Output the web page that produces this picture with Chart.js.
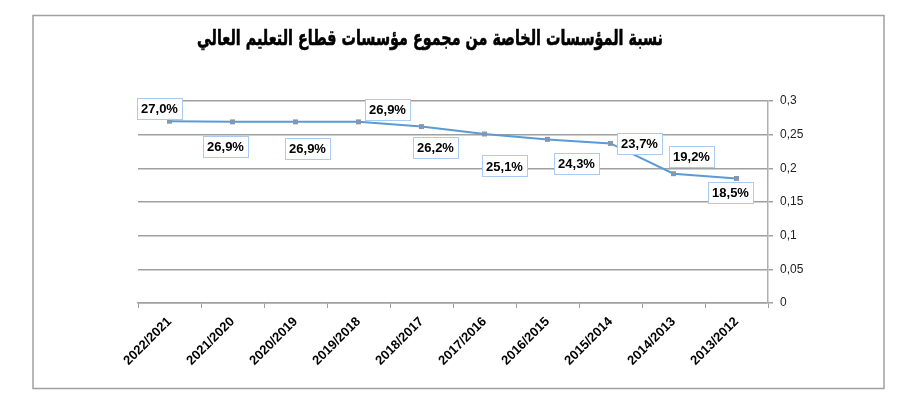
<!DOCTYPE html>
<html>
<head>
<meta charset="utf-8">
<script src="https://cdn.jsdelivr.net/npm/chart.js@4/dist/chart.umd.min.js"></script>
<style>
html,body{margin:0;padding:0;background:#fff;}
#wrap{position:absolute;left:0;top:0;width:923px;height:411px;}
</style>
</head>
<body>
<div id="wrap"><canvas id="c" width="923" height="411"></canvas></div>
<script>
// ---- data ----
const titleText = 'نسبة المؤسسات الخاصة من مجموع مؤسسات قطاع التعليم العالي';
const categories = ['2022/2021','2021/2020','2020/2019','2019/2018','2018/2017','2017/2016','2016/2015','2015/2014','2014/2013','2013/2012'];
const shareValues = [0.270, 0.269, 0.269, 0.269, 0.262, 0.251, 0.243, 0.237, 0.192, 0.185];
const yTickLabels = ['0','0,05','0,1','0,15','0,2','0,25','0,3'];

// ---- plugins ----
const frameAndTitle = {
  id: 'frameAndTitle',
  beforeDraw(chart) {
    const ctx = chart.ctx;
    ctx.save();
    ctx.fillStyle = '#ffffff';
    ctx.fillRect(0, 0, chart.width, chart.height);
    ctx.strokeStyle = '#a0a0a0';
    ctx.lineWidth = 1.5;
    ctx.strokeRect(33, 15.5, 851, 373);
    ctx.restore();
  },
  afterDraw(chart) {
    const ctx = chart.ctx;
    ctx.save();
    const size = 21;
    ctx.font = 'bold ' + size + 'px "DejaVu Sans", sans-serif';
    const w = ctx.measureText(titleText).width;
    const sx = 466 / w;
    ctx.translate(430, 40);
    ctx.scale(sx, 1);
    ctx.fillStyle = '#000';
    ctx.textAlign = 'center';
    ctx.textBaseline = 'middle';
    ctx.fillText(titleText, 0, 0);
    ctx.lineWidth = 0.6;
    ctx.strokeStyle = '#000';
    ctx.strokeText(titleText, 0, 0);
    ctx.restore();
  }
};

const boxedLabels = {
  id: 'boxedLabels',
  afterDatasetsDraw(chart, args, opts) {
    const ctx = chart.ctx;
    const meta = chart.getDatasetMeta(0);
    const ds = chart.data.datasets[0];
    ctx.save();
    ctx.font = 'bold 13px "Liberation Sans", sans-serif';
    ctx.textAlign = 'center';
    ctx.textBaseline = 'middle';
    meta.data.forEach((pt, i) => {
      const txt = (ds.data[i] * 100).toFixed(1).replace('.', ',') + '%';
      const off = opts.offsets[i];
      const cx = pt.x + off[0], cy = pt.y + off[1];
      const bw = 45, bh = 21;
      ctx.fillStyle = '#ffffff';
      ctx.fillRect(cx - bw / 2, cy - bh / 2, bw, bh);
      ctx.strokeStyle = '#a9cbef';
      ctx.lineWidth = 1;
      ctx.strokeRect(Math.round(cx - bw / 2) + 0.5, Math.round(cy - bh / 2) + 0.5, bw, bh);
      ctx.fillStyle = '#000';
      ctx.fillText(txt, cx, cy + 1);
    });
    ctx.restore();
  }
};

new Chart(document.getElementById('c'), {
  type: 'line',
  data: {
    labels: categories,
    datasets: [{
      data: shareValues,
      borderColor: '#5b9bd5',
      borderWidth: 2,
      tension: 0,
      pointStyle: 'rect',
      pointRadius: 3.5,
      pointBackgroundColor: '#8497b0',
      pointBorderColor: '#8497b0',
      pointBorderWidth: 0
    }]
  },
  options: {
    responsive: false,
    animation: false,
    devicePixelRatio: 1,
    layout: { padding: { left: 138, right: 115, top: 101, bottom: 28 } },
    plugins: {
      legend: { display: false },
      title: { display: false },
      tooltip: { enabled: false },
      boxedLabels: {
        offsets: [[-10,-13],[-7,25],[12,27],[29,-12],[14,21],[20,32],[29,24],[29,0],[18,-17],[-6,14]]
      }
    },
    scales: {
      x: {
        offset: true,
        grid: { display: true, drawOnChartArea: false, drawTicks: true, tickLength: 5, color: '#a0a0a0', offset: true },
        border: { display: true, color: '#a0a0a0', width: 1.5 },
        ticks: {
          maxRotation: 45, minRotation: 45, autoSkip: false, padding: 6,
          color: '#000',
          font: { family: '"Liberation Sans", sans-serif', size: 13, weight: 'bold' }
        },
        afterFit(scale) { scale.height = 80; }
      },
      y: {
        position: 'right',
        min: 0, max: 0.3,
        grid: { color: '#a0a0a0', lineWidth: 1.5, tickLength: 5 },
        border: { display: true, color: '#b0b0b0', width: 1.5 },
        ticks: {
          stepSize: 0.05, padding: 7, color: '#222',
          font: { family: '"Liberation Sans", sans-serif', size: 12 },
          callback(v) { return yTickLabels[Math.round(v / 0.05)]; }
        },
        afterFit(scale) { scale.width = 40; }
      }
    }
  },
  plugins: [frameAndTitle, boxedLabels]
});
</script>
</body>
</html>
